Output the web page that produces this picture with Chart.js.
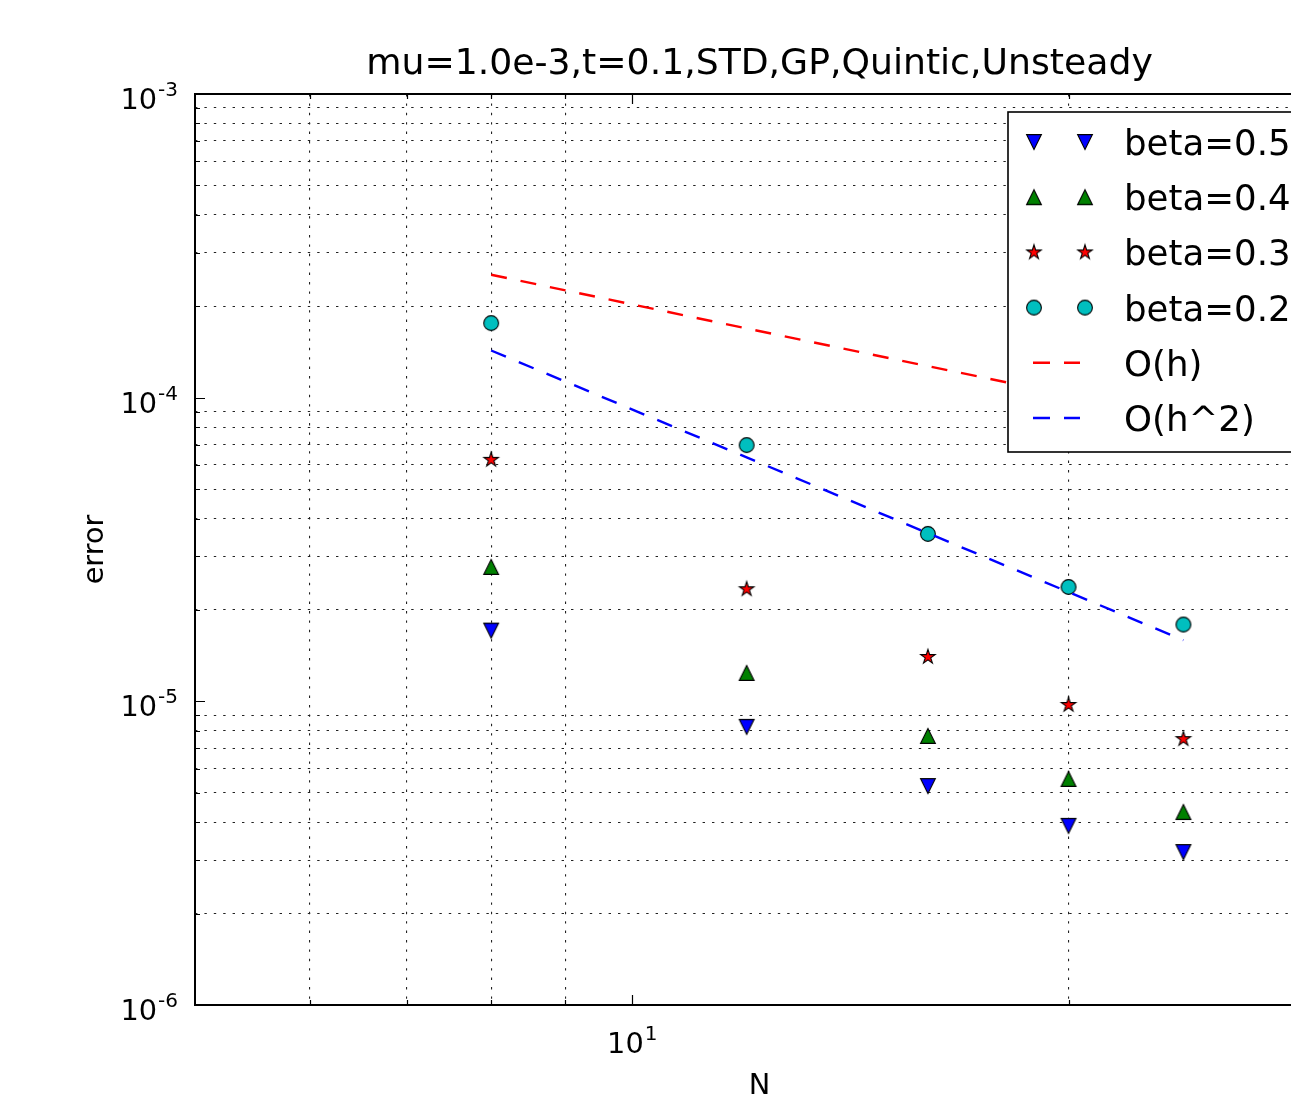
<!DOCTYPE html>
<html>
<head>
<meta charset="utf-8">
<script src="https://cdn.jsdelivr.net/npm/chart.js@4"></script>
<style>
html, body { margin: 0; padding: 0; overflow: hidden; background: #fff; }
canvas { display: block; }
</style>
</head>
<body>
<canvas id="errChart" width="1400" height="1094"></canvas>
<script>
// values
const N = [8, 12, 16, 20, 24];
const beta05 = [1.71e-5, 8.24e-6, 5.26e-6, 3.89e-6, 3.19e-6];
const beta04 = [2.77e-5, 1.24e-5, 7.69e-6, 5.55e-6, 4.32e-6];
const beta03 = [6.24e-5, 2.34e-5, 1.40e-5, 9.73e-6, 7.51e-6];
const beta02 = [1.76e-4, 6.98e-5, 3.56e-5, 2.38e-5, 1.79e-5];
const orderH = [2.54e-4, 1.69e-4, 1.27e-4, 1.02e-4, 8.47e-5];
const orderH2 = [1.43e-4, 6.36e-5, 3.58e-5, 2.29e-5, 1.59e-5];

const titleText = "mu=1.0e-3,t=0.1,STD,GP,Quintic,Unsteady";
const xMajor = [10];
const xMinor = [6, 7, 8, 9, 20, 30];
const yMajor = [1e-6, 1e-5, 1e-4, 1e-3];
const yMinor = [2e-6, 3e-6, 4e-6, 5e-6, 6e-6, 7e-6, 8e-6, 9e-6,
                2e-5, 3e-5, 4e-5, 5e-5, 6e-5, 7e-5, 8e-5, 9e-5,
                2e-4, 3e-4, 4e-4, 5e-4, 6e-4, 7e-4, 8e-4, 9e-4];
const xLabels = {10: ["10", "1"]};
const yLabels = {"0.000001": ["10", "-6"], "0.00001": ["10", "-5"], "0.0001": ["10", "-4"], "0.001": ["10", "-3"]};

const FONT = "'DejaVu Sans', sans-serif";

function marker(kind, fill) {
    const c = document.createElement("canvas");
    c.width = 22; c.height = 22;
    const g = c.getContext("2d");
    const cx = 11, cy = 11;
    g.beginPath();
    if (kind === "down") {
        const s = 7.4;
        g.moveTo(cx, cy + s); g.lineTo(cx - s, cy - s); g.lineTo(cx + s, cy - s);
    } else if (kind === "up") {
        const s = 7.4;
        g.moveTo(cx, cy - s); g.lineTo(cx - s, cy + s); g.lineTo(cx + s, cy + s);
    } else if (kind === "star") {
        const ro = 7.6, ri = 7.6 * 0.382;
        for (let k = 0; k < 10; k++) {
            const r = k % 2 ? ri : ro;
            const a = -Math.PI / 2 + k * Math.PI / 5;
            const px = cx + r * Math.cos(a), py = cy + r * Math.sin(a);
            if (k === 0) g.moveTo(px, py); else g.lineTo(px, py);
        }
    } else {
        g.arc(cx, cy, 7.4, 0, Math.PI * 2);
    }
    g.closePath();
    g.fillStyle = fill;
    g.fill();
    g.lineWidth = 1.1;
    g.strokeStyle = "#000";
    g.stroke();
    return c;
}

const mDown = marker("down", "#0000ff");
const mUp = marker("up", "#008000");
const mStar = marker("star", "#ff0000");
const mCirc = marker("circle", "#00bfbf");

function pts(ys) {
    return N.map((n, i) => ({x: n, y: ys[i]}));
}

const legendItems = [
    {text: "beta=0.5", img: mDown},
    {text: "beta=0.4", img: mUp},
    {text: "beta=0.3", img: mStar},
    {text: "beta=0.2", img: mCirc},
    {text: "O(h)", line: "#ff0000"},
    {text: "O(h^2)", line: "#0000ff"}
];

function drawPow(ctx, base, exp, x, y, align) {
    ctx.font = "28.8px " + FONT;
    const wb = ctx.measureText(base).width;
    ctx.font = "20px " + FONT;
    const we = ctx.measureText(exp).width;
    let left = align === "right" ? x - wb - we : x - (wb + we) / 2;
    ctx.textAlign = "left";
    ctx.textBaseline = "alphabetic";
    ctx.font = "28.8px " + FONT;
    ctx.fillText(base, left, y);
    ctx.font = "20px " + FONT;
    ctx.fillText(exp, left + wb + 1, y - 13);
}

const decor = {
    id: "decor",
    afterDraw(chart) {
        const ctx = chart.ctx;
        const a = chart.chartArea;
        const xs = chart.scales.x, ys = chart.scales.y;
        ctx.save();
        ctx.fillStyle = "#000";
        ctx.strokeStyle = "#000";

        // inward tick marks on all sides
        ctx.lineWidth = 1.2;
        ctx.beginPath();
        xMajor.concat(xMinor).forEach(v => {
            const px = Math.round(xs.getPixelForValue(v)) + 0.5;
            const len = xMajor.includes(v) ? 10 : 5;
            ctx.moveTo(px, a.bottom); ctx.lineTo(px, a.bottom - len);
            ctx.moveTo(px, a.top); ctx.lineTo(px, a.top + len);
        });
        yMajor.concat(yMinor).forEach(v => {
            const py = Math.round(ys.getPixelForValue(v)) + 0.5;
            const len = yMajor.includes(v) ? 10 : 5;
            ctx.moveTo(a.left, py); ctx.lineTo(a.left + len, py);
            ctx.moveTo(a.right, py); ctx.lineTo(a.right - len, py);
        });
        ctx.stroke();

        // axes frame
        ctx.lineWidth = 2;
        ctx.strokeRect(a.left, a.top, a.right - a.left, a.bottom - a.top);

        // tick labels
        yMajor.forEach(v => {
            const lab = yLabels[String(v)];
            drawPow(ctx, lab[0], lab[1], a.left - 18, ys.getPixelForValue(v) + 15, "right");
        });
        xMajor.forEach(v => {
            const lab = xLabels[v];
            drawPow(ctx, lab[0], lab[1], xs.getPixelForValue(v), a.bottom + 48, "center");
        });

        // title and axis labels
        ctx.textAlign = "center";
        ctx.textBaseline = "alphabetic";
        ctx.font = "36.2px " + FONT;
        ctx.fillText(titleText, (a.left + a.right) / 2, 74);
        ctx.font = "28.8px " + FONT;
        ctx.fillText("N", (a.left + a.right) / 2, a.bottom + 89);
        ctx.save();
        ctx.translate(103, (a.top + a.bottom) / 2);
        ctx.rotate(-Math.PI / 2);
        ctx.fillText("error", 0, 0);
        ctx.restore();

        // legend
        const bx = a.right - 316, by = a.top + 18, bw = 299, bh = 340;
        ctx.fillStyle = "#fff";
        ctx.fillRect(bx, by, bw, bh);
        ctx.lineWidth = 1.6;
        ctx.strokeStyle = "#000";
        ctx.strokeRect(bx, by, bw, bh);
        legendItems.forEach((it, i) => {
            const ry = by + 30 + 55.2 * i;
            if (it.img) {
                [26, 77].forEach(dx => ctx.drawImage(it.img, bx + dx - 11, ry - 11));
            } else {
                ctx.save();
                ctx.strokeStyle = it.line;
                ctx.lineWidth = 2.4;
                ctx.setLineDash([17, 14]);
                ctx.beginPath();
                ctx.moveTo(bx + 25, ry);
                ctx.lineTo(bx + 72, ry);
                ctx.stroke();
                ctx.restore();
            }
            ctx.fillStyle = "#000";
            ctx.font = "35.6px " + FONT;
            ctx.textAlign = "left";
            ctx.fillText(it.text, bx + 116, ry + 13);
        });
        ctx.restore();
    }
};

function gridScale(major, minor, min, max, fitKey, fitVal) {
    return {
        type: "logarithmic",
        min: min,
        max: max,
        afterBuildTicks(scale) {
            scale.ticks = major.concat(minor).map(v => ({value: v, major: major.includes(v)}));
        },
        afterFit(scale) {
            scale[fitKey] = fitVal;
        },
        ticks: {display: false},
        grid: {
            drawTicks: false,
            lineWidth: 1.1,
            color: c => (c.tick && c.tick.major) ? "rgba(0,0,0,0)" : "#222"
        },
        border: {display: false, dash: [2.4, 7]}
    };
}

new Chart(document.getElementById("errChart"), {
    type: "scatter",
    data: {
        datasets: [
            {label: "O(h^2)", data: pts(orderH2), showLine: true, borderColor: "#0000ff",
             borderWidth: 2.4, borderDash: [16, 14], pointRadius: 0, fill: false},
            {label: "O(h)", data: pts(orderH), showLine: true, borderColor: "#ff0000",
             borderWidth: 2.4, borderDash: [16, 14], pointRadius: 0, fill: false},
            {label: "beta=0.2", data: pts(beta02), pointStyle: mCirc, pointRadius: 8},
            {label: "beta=0.3", data: pts(beta03), pointStyle: mStar, pointRadius: 8},
            {label: "beta=0.4", data: pts(beta04), pointStyle: mUp, pointRadius: 8},
            {label: "beta=0.5", data: pts(beta05), pointStyle: mDown, pointRadius: 8}
        ]
    },
    options: {
        responsive: false,
        animation: false,
        devicePixelRatio: 1,
        layout: {padding: {top: 94, left: 0, right: 76, bottom: 0}},
        plugins: {legend: {display: false}, tooltip: {enabled: false}, title: {display: false}},
        scales: {
            x: gridScale(xMajor, xMinor, 5, 30, "height", 89),
            y: gridScale(yMajor, yMinor, 1e-6, 1e-3, "width", 195)
        }
    },
    plugins: [decor]
});
</script>
</body>
</html>
